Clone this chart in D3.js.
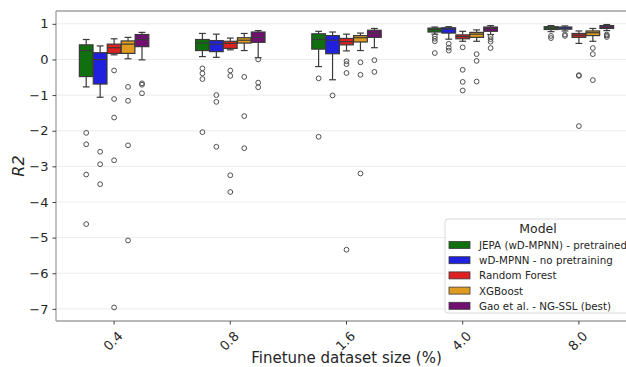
<html>
<script src="https://d3js.org/d3.v7.min.js"></script>
<style>
  body { margin: 0; background: #fff; }
  text { font-family: "DejaVu Sans", sans-serif; fill: #262626; }
</style>
<body>
<div id="chart_area"></div>
<script>

// finetune sizes and models
var sizes = ["0.4", "0.8", "1.6", "4.0", "8.0"];
var models = ["JEPA (wD-MPNN) - pretrained", "wD-MPNN - no pretraining", "Random Forest", "XGBoost", "Gao et al. - NG-SSL (best)"];
var colors = ["#107010", "#2020df", "#df2020", "#df9c20", "#701070"];

// box stats per size: [lower whisker, q1, median, q3, upper whisker]
var jepa_box  = [[-0.77,-0.48,0.25,0.41,0.56],[0.08,0.25,0.46,0.56,0.73],[-0.20,0.29,0.56,0.72,0.79],[0.71,0.77,0.84,0.88,0.91],[0.78,0.84,0.88,0.92,0.95]];
var wdmpnn_box = [[-1.06,-0.69,0.0,0.19,0.38],[0.06,0.22,0.43,0.53,0.71],[-0.57,0.16,0.54,0.67,0.77],[0.57,0.74,0.85,0.89,0.92],[0.80,0.85,0.88,0.91,0.94]];
var rf_box    = [[0.13,0.17,0.33,0.43,0.58],[0.27,0.31,0.45,0.51,0.60],[0.24,0.41,0.50,0.59,0.71],[0.51,0.58,0.64,0.69,0.79],[0.45,0.62,0.68,0.73,0.80]];
var xgb_box   = [[0.02,0.17,0.43,0.52,0.62],[0.25,0.46,0.54,0.61,0.73],[0.25,0.49,0.61,0.67,0.74],[0.51,0.62,0.71,0.76,0.83],[0.51,0.67,0.75,0.80,0.87]];
var gao_box   = [[-0.01,0.36,0.56,0.70,0.76],[0.05,0.48,0.62,0.77,0.81],[0.33,0.62,0.74,0.82,0.87],[0.70,0.79,0.87,0.91,0.95],[0.81,0.87,0.92,0.95,0.98]];

// fliers per size
var jepa_out   = [[-2.06,-2.38,-3.23,-4.62],[-0.25,-0.39,-0.55,-2.04],[-0.53,-2.17],[0.65,0.58,0.51,0.18],[0.66,0.60]];
var wdmpnn_out = [[-2.59,-2.94,-3.50],[-1.0,-1.19,-2.45],[-1.01],[0.44,0.33,0.25],[0.70,0.66]];
var rf_out     = [[-0.31,-1.11,-1.63,-2.83,-6.96],[-0.31,-0.46,-3.25,-3.72],[-0.05,-0.13,-0.38,-5.34],[0.34,-0.29,-0.63,-0.87],[-0.44,-0.46,-1.87]];
var xgb_out    = [[-0.77,-1.16,-2.41,-5.08],[-0.49,-1.59,-2.49],[-0.08,-0.43,-3.20],[0.15,-0.04,-0.62],[0.32,0.15,-0.58]];
var gao_out    = [[-0.67,-0.71,-0.95],[0.0,-0.65,-0.78],[-0.02,-0.35],[0.64,0.57,0.50,0.32],[0.70,0.63,0.67]];

var yTicks = [1, 0, -1, -2, -3, -4, -5, -6, -7];

var boxes = [jepa_box, wdmpnn_box, rf_box, xgb_box, gao_box];
var fliers = [jepa_out, wdmpnn_out, rf_out, xgb_out, gao_out];

var W = 626, H = 367;
var margin = {top: 11, left: 56, bottom: 46};
var plotRight = 637;

var svg = d3.select("#chart_area").append("svg").attr("width", W).attr("height", H);

var x = d3.scaleBand().domain(sizes).range([margin.left, plotRight]);
var y = d3.scaleLinear().domain([-7.34, 1.36]).range([H - margin.bottom, margin.top]);
var hue = d3.scaleBand().domain(models).range([-x.bandwidth()*0.3, x.bandwidth()*0.3]);

// grid
svg.append("g").selectAll("line").data(yTicks).enter().append("line")
  .attr("x1", margin.left).attr("x2", plotRight)
  .attr("y1", d => y(d)).attr("y2", d => y(d))
  .style("stroke", "#ebebeb").style("stroke-width", 1);

// boxes
var lineCol = "#3a3a3a";
models.forEach(function(m, mi){
  var g = svg.append("g");
  sizes.forEach(function(s, si){
    var b = boxes[mi][si];
    var cx = x(s) + x.bandwidth()/2 + hue(m) + hue.bandwidth()/2;
    var bw = hue.bandwidth() * 0.98;
    // whiskers
    g.append("line").attr("x1", cx).attr("x2", cx).attr("y1", y(b[0])).attr("y2", y(b[1])).style("stroke", lineCol).style("stroke-width", 1.2);
    g.append("line").attr("x1", cx).attr("x2", cx).attr("y1", y(b[3])).attr("y2", y(b[4])).style("stroke", lineCol).style("stroke-width", 1.2);
    g.append("line").attr("x1", cx - bw/4).attr("x2", cx + bw/4).attr("y1", y(b[0])).attr("y2", y(b[0])).style("stroke", lineCol).style("stroke-width", 1.2);
    g.append("line").attr("x1", cx - bw/4).attr("x2", cx + bw/4).attr("y1", y(b[4])).attr("y2", y(b[4])).style("stroke", lineCol).style("stroke-width", 1.2);
    g.append("rect").attr("x", cx - bw/2).attr("width", bw)
      .attr("y", y(b[3])).attr("height", y(b[1]) - y(b[3]))
      .attr("fill", colors[mi]).style("stroke", lineCol).style("stroke-width", 1.2);
    g.append("line").attr("x1", cx - bw/2).attr("x2", cx + bw/2).attr("y1", y(b[2])).attr("y2", y(b[2])).style("stroke", lineCol).style("stroke-width", 1.2);
    g.selectAll(".flier" + si).data(fliers[mi][si]).enter().append("circle")
      .attr("cx", cx).attr("cy", d => y(d)).attr("r", 2.4)
      .attr("fill", "none").style("stroke", "#505050").style("stroke-width", 1);
  });
});

// spines
svg.append("line").attr("x1", margin.left).attr("x2", plotRight).attr("y1", margin.top).attr("y2", margin.top).style("stroke", "#a0a0a0").style("stroke-width", 1.3);
svg.append("line").attr("x1", margin.left).attr("x2", plotRight).attr("y1", y.range()[0]).attr("y2", y.range()[0]).style("stroke", "#a0a0a0").style("stroke-width", 1.3);
svg.append("line").attr("x1", margin.left).attr("x2", margin.left).attr("y1", margin.top).attr("y2", y.range()[0]).style("stroke", "#a0a0a0").style("stroke-width", 1.3);

// y axis
var yAxis = svg.append("g").attr("transform", "translate(" + margin.left + ",0)")
  .call(d3.axisLeft(y).tickValues(yTicks).tickSize(3.5).tickPadding(4).tickFormat(d => d < 0 ? "\u2212" + Math.abs(d) : d));
yAxis.select(".domain").remove();
yAxis.selectAll("line").style("stroke", "#404040");
yAxis.selectAll("text").style("font-size", "13px").style("fill", "#262626");

// x axis
var xAxis = svg.append("g").attr("transform", "translate(0," + y.range()[0] + ")")
  .call(d3.axisBottom(x).tickSize(3.5).tickFormat(""));
xAxis.select(".domain").remove();
xAxis.selectAll("line").style("stroke", "#404040");
svg.append("g").selectAll("text").data(sizes).enter().append("text")
  .attr("transform", d => "translate(" + (x(d) + x.bandwidth()/2 - 1) + ",341) rotate(-45)")
  .attr("text-anchor", "middle").attr("dominant-baseline", "central")
  .style("font-size", "13px").text(d => d);

svg.append("text").attr("x", (margin.left + plotRight)/2).attr("y", 363)
  .attr("text-anchor", "middle").style("font-size", "15px").text("Finetune dataset size (%)");

svg.append("text").attr("transform", "translate(24," + (margin.top + y.range()[0])/2 + ") rotate(-90)")
  .attr("text-anchor", "middle").style("font-size", "16px").style("font-style", "italic").text("R2");

// legend
var leg = svg.append("g").attr("transform", "translate(445,219)");
leg.append("rect").attr("x", 0).attr("y", 0).attr("width", 190).attr("height", 94).attr("rx", 3)
  .attr("fill", "white").attr("fill-opacity", 0.85).style("stroke", "#d9d9d9").style("stroke-width", 1);
leg.append("text").attr("x", 93).attr("y", 9.5).attr("text-anchor", "middle").attr("dominant-baseline", "central")
  .style("font-size", "12.5px").text("Model");
leg.selectAll(".patch").data(models).enter().append("rect")
  .attr("x", 4).attr("y", (d, i) => 26 + i*15.2 - 3.5).attr("width", 21).attr("height", 7)
  .attr("fill", (d, i) => colors[i]).style("stroke", lineCol).style("stroke-width", 0.8);
leg.selectAll(".lab").data(models).enter().append("text")
  .attr("x", 34).attr("y", (d, i) => 26 + i*15.2).attr("dominant-baseline", "central")
  .style("font-size", "10.3px").text(d => d);

</script>
</body>
</html>
